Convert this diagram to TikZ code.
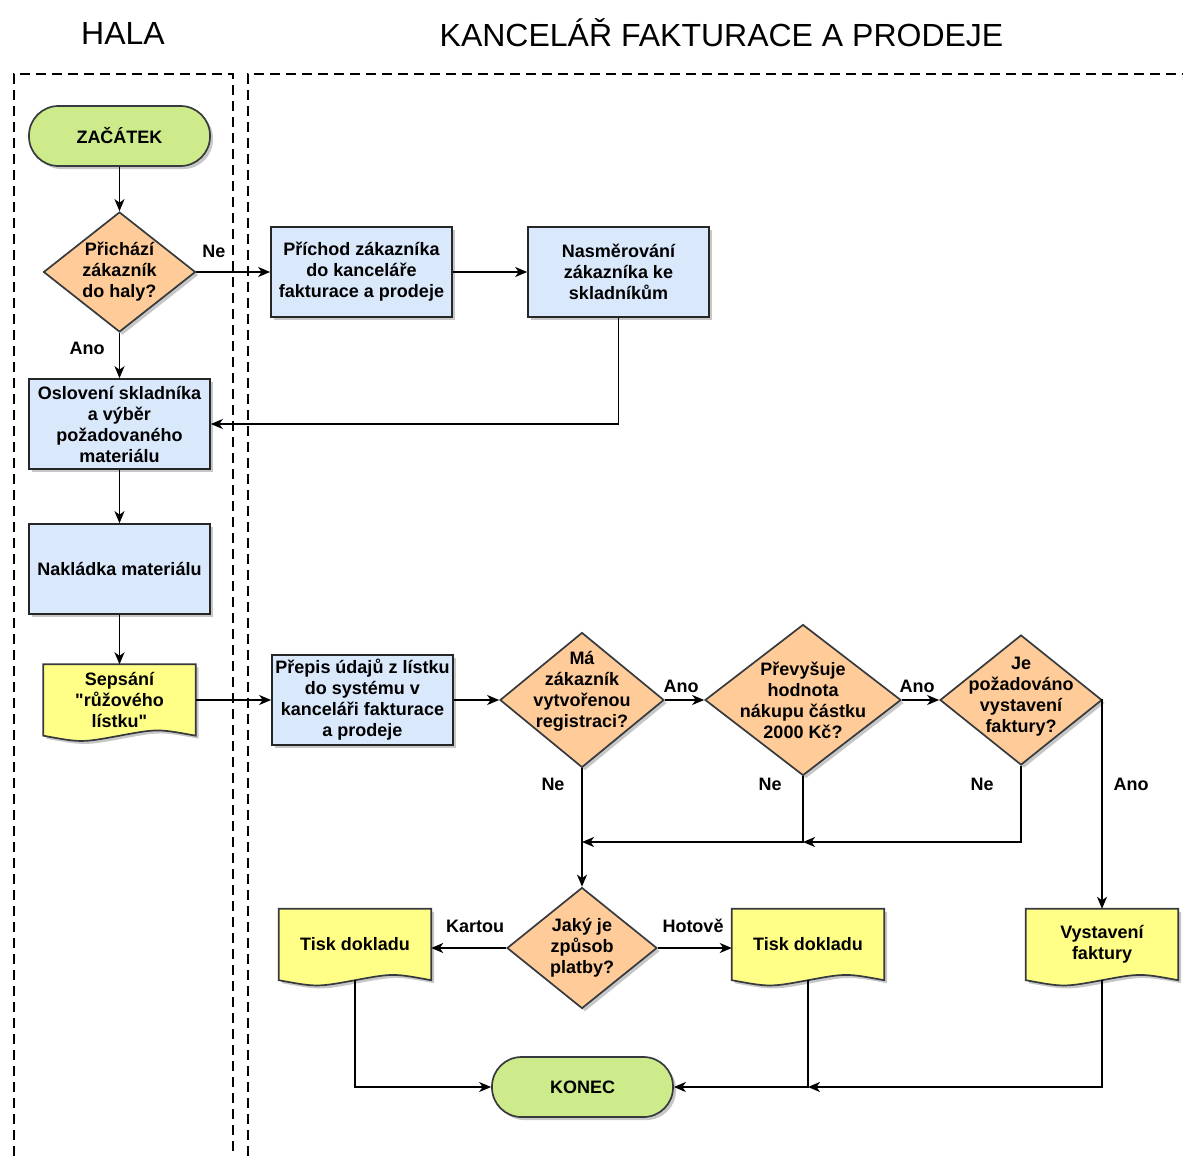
\documentclass[tikz,border=0pt]{standalone}
\usepackage{fontspec}
\setmainfont{Liberation Sans}
\usetikzlibrary{shapes.geometric,arrows.meta,calc,shadows,backgrounds}
\definecolor{gfill}{HTML}{CDEB8B}
\definecolor{ofill}{HTML}{FFCC99}
\definecolor{bfill}{HTML}{DAE8FC}
\definecolor{yfill}{HTML}{FFFF88}
\definecolor{sdark}{HTML}{36393D}
\tikzset{
 txt/.style={font=\fontsize{18}{21}\selectfont\bfseries, align=center},
 shdw/.style={drop shadow={shadow xshift=3pt,shadow yshift=-3pt,opacity=0.22,fill=black}},
 term/.style={txt, rectangle, rounded corners=29.5pt, fill=gfill, draw=sdark, line width=1.7pt, minimum width=181, minimum height=60, shdw},
 proc/.style={txt, rectangle, fill=bfill, draw=black!85, line width=1.7pt, minimum width=181, minimum height=90, inner sep=2pt, shdw},
 dec/.style={diamond, fill=ofill, draw=sdark, line width=1.7pt, inner sep=0pt, shdw},
 lbl/.style={txt, inner sep=0pt},
 docn/.style={txt, rectangle, minimum width=152, minimum height=71, inner sep=0pt},
 docfill/.style={fill=yfill, draw=sdark, line width=1.7pt, shdw},
 arr/.style={line width=1.7pt, -{Stealth[length=12pt,width=10pt,inset=3.5pt]}},
 lane/.style={line width=2.6pt, dash pattern=on 10pt off 6pt},
 title/.style={font=\fontsize{32}{38}\selectfont},
}
\newcommand\docshape[1]{%
 \begin{scope}[on background layer]
 \path[docfill] (#1.north west) -- (#1.north east) -- (#1.south east)
   .. controls ($(#1.south)!0.5!(#1.south east)+(0,-7)$) .. (#1.south)
   .. controls ($(#1.south)!0.5!(#1.south west)+(0,7)$) .. (#1.south west) -- cycle;
 \end{scope}}
\begin{document}
\begin{tikzpicture}[x=1pt,y=-1pt]
\useasboundingbox (0,0) rectangle (1183,1156);
% lanes
\draw[lane] (14,1156) -- (14,74) -- (233,74) -- (233,1156);
\draw[lane] (248,1156) -- (248,74) -- (1183,74);
\node[title] (tHala) at (123,33) {HALA};
\node[title] (tKanc) at (721.5,33) {KANCELÁŘ FAKTURACE A PRODEJE};
% nodes
\node[term] (start) at (119.5,136) {ZAČÁTEK};
\node[dec, minimum width=152, minimum height=120, label={[lbl]center:{Přichází\\zákazník\\do haly?}}] (d1) at (119.5,272) {};
\node[proc] (p1) at (361.5,272) {Příchod zákazníka\\do kanceláře\\fakturace a prodeje};
\node[proc] (p2) at (618.5,272) {Nasměrování\\zákazníka ke\\skladníkům};
\node[proc] (os) at (119.5,424) {Oslovení skladníka\\a výběr\\požadovaného\\materiálu};
\node[proc] (nak) at (119.5,569) {Nakládka materiálu};
\node[docn] (sep) at (119.5,700) {Sepsání\\\textquotedbl růžového\\lístku\textquotedbl};
\docshape{sep}
\node[proc] (prep) at (362.5,700) {Přepis údajů z lístku\\do systému v\\kanceláři fakturace\\a prodeje};
\node[dec, minimum width=164, minimum height=135, label={[lbl,yshift=9pt]center:{Má\\zákazník\\vytvořenou\\registraci?}}] (ma) at (582,700) {};
\node[dec, minimum width=196, minimum height=151, label={[lbl]center:{Převyšuje\\hodnota\\nákupu částku\\2000 Kč?}}] (pr) at (803,700) {};
\node[dec, minimum width=162, minimum height=130, label={[lbl,yshift=3pt]center:{Je\\požadováno\\vystavení\\faktury?}}] (je) at (1021,700) {};
\node[dec, minimum width=150, minimum height=121, label={[lbl]center:{Jaký je\\způsob\\platby?}}] (jak) at (582,948) {};
\node[docn] (t1) at (355,944.5) {Tisk dokladu};
\docshape{t1}
\node[docn] (t2) at (808,944.5) {Tisk dokladu};
\docshape{t2}
\node[docn] (vy) at (1102,944.5) {Vystavení\\faktury};
\docshape{vy}
\node[term] (kon) at (582.5,1087) {KONEC};
% labels
\node[lbl] (l1) at (214,251) {Ne};
\node[lbl] (l2) at (87,348) {Ano};
\node[lbl] (l3) at (681,686) {Ano};
\node[lbl] (l4) at (917,686) {Ano};
\node[lbl] (l5) at (553,784) {Ne};
\node[lbl] (l6) at (770,784) {Ne};
\node[lbl] (l7) at (982,784) {Ne};
\node[lbl] (l8) at (1131,784) {Ano};
\node[lbl] (l9) at (475,926) {Kartou};
\node[lbl] (l10) at (693,926) {Hotově};
% connectors
\draw[arr] (start.south) -- (d1.north);
\draw[arr] (d1.east) -- (p1.west);
\draw[arr] (d1.south) -- (os.north);
\draw[arr] (p1.east) -- (p2.west);
\draw[arr] (p2.south) |- (os.east);
\draw[arr] (os.south) -- (nak.north);
\draw[arr] (nak.south) -- (sep.north);
\draw[arr] (sep.east) -- (prep.west);
\draw[arr] (prep.east) -- (ma.west);
\draw[arr] (ma.east) -- (pr.west);
\draw[arr] (pr.east) -- (je.west);
\draw[arr] (je.east) -| (vy.north);
\draw[arr] (ma.south) -- (jak.north);
\coordinate (m1) at (582,842);
\coordinate (m2) at (803,842);
\draw[arr] (pr.south) |- (m1);
\draw[arr] (je.south) |- (m2);
\draw[arr] (jak.west) -- (jak.west -| t1.east);
\draw[arr] (jak.east) -- (jak.east -| t2.west);
\draw[arr] (t1.south) |- (kon.west);
\draw[arr] (t2.south) |- (kon.east);
\coordinate (m3) at (t2.south |- kon.east);
\draw[arr] (vy.south) |- (m3);
\end{tikzpicture}
\end{document}
